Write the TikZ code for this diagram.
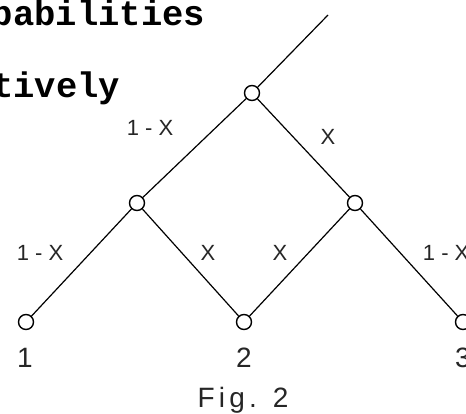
\documentclass[tikz,border=0pt]{standalone}
\usepackage{fontspec}
\setmainfont{Liberation Sans}
\newfontfamily\typew{Liberation Mono}

\begin{document}
\begin{tikzpicture}[x=1pt,y=-1pt,line width=1.2pt,
        vtx/.style={circle,draw,fill=white,line width=1.4pt,inner sep=0pt,minimum size=15pt},
        lbl/.style={font=\fontsize{22}{24}\selectfont,text=black!85},
        num/.style={font=\fontsize{28}{30}\selectfont,text=black!85},
        tw/.style={anchor=base west,font=\typew\bfseries\fontsize{35.5}{38}\selectfont}]
        \useasboundingbox (0,0) rectangle (466,413);
        \clip (0,0) rectangle (466,413);
        % typed text cut off at the left
        \node[tw,inner sep=0pt] (line1) at (-72.5,25) {probabilities};
        \node[tw,inner sep=0pt] (line2) at (-136,97) {respectively};
        % tree
        \coordinate (in) at (328,15);
        \node[vtx] (top) at (252,93) {};
        \node[vtx] (left) at (137,203) {};
        \node[vtx] (right) at (355,203) {};
        \node[vtx] (s1) at (26,322) {};
        \node[vtx] (s2) at (244,322) {};
        \node[vtx] (s3) at (463,322) {};
        \draw (in) -- (top);
        \draw (top) -- (left);
        \draw (top) -- (right);
        \draw (left) -- (s1);
        \draw (left) -- (s2);
        \draw (right) -- (s2);
        \draw (right) -- (s3);
        % branch labels
        \node[lbl] (p1) at (150,128) {1 - X};
        \node[lbl] (p2) at (328,137) {X};
        \node[lbl] (p3) at (40,253) {1 - X};
        \node[lbl] (p4) at (208,253) {X};
        \node[lbl] (p5) at (280,253) {X};
        \node[lbl,anchor=west] (p6) at (419,253) {1 - X};
        % end states
        \node[num] (n1) at (25,358) {1};
        \node[num] (n2) at (244,358) {2};
        \node[num] (n3) at (463,358) {3};
        \node[num,font=\fontsize{28}{30}\selectfont\addfontfeatures{LetterSpace=15}] (cap) at (243,400) {Fig. 2};
\end{tikzpicture}
\end{document}
